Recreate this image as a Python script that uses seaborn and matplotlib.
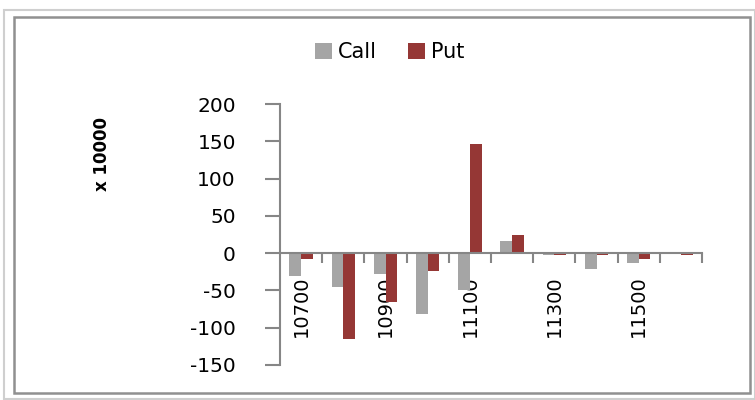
import pandas as pd
import numpy as np
import matplotlib
matplotlib.use('Agg')
import matplotlib.pyplot as plt
import seaborn as sns
from matplotlib.patches import Rectangle

# strikes and values (x 10000)
strikes = ['10700', '10800', '10900', '11000', '11100',
           '11200', '11300', '11400', '11500', '11600']
call = [-30, -46, -28, -81, -50, 16, -2, -21, -13, -1]
put = [-8, -115, -66, -24, 146, 24, -2, -3, -8, -3]
series = ['Call', 'Put']
colors = ['#A5A5A5', '#953735']
yticks = [-150, -100, -50, 0, 50, 100, 150, 200]

df = pd.DataFrame({
    'strike': strikes * 2,
    'value': call + put,
    'type': ['Call'] * len(strikes) + ['Put'] * len(strikes),
})

sns.set_style('white')
plt.rcParams['font.family'] = ['DejaVu Sans']
plt.rcParams['axes.unicode_minus'] = False
plt.rcParams['text.color'] = 'black'
plt.rcParams['xtick.labelcolor'] = 'black'
plt.rcParams['ytick.labelcolor'] = 'black'

fig = plt.figure(figsize=(7.55, 4.0), dpi=100)
ax = fig.add_axes([280 / 755, 35 / 400, 422 / 755, 261 / 400])

sns.barplot(data=df, x='strike', y='value', hue='type', order=strikes,
            hue_order=series, palette=colors, width=0.55, linewidth=0,
            saturation=1, ax=ax)

handles, labels = ax.get_legend_handles_labels()
ax.get_legend().remove()
fig.legend(handles, labels, loc='center', bbox_to_anchor=(390 / 755, 1 - 52 / 400),
           ncol=2, frameon=False, fontsize=15, handlelength=0.8, handleheight=0.8,
           handletextpad=0.3, columnspacing=1.5, labelcolor='black')

# axes look
ax.set_xlim(-0.5, 9.5)
ax.set_ylim(-150, 200)
ax.set_yticks(yticks)
ax.set_xlabel('')
ax.set_ylabel('')
for s in ['top', 'right']:
    ax.spines[s].set_visible(False)
ax.spines['bottom'].set_position(('data', 0))
for s in ['left', 'bottom']:
    ax.spines[s].set_color('#868686')
    ax.spines[s].set_linewidth(1.5)

ax.set_xticks(range(0, 10, 2))
ax.set_xticklabels(strikes[::2], rotation=90, fontsize=14)
ax.set_xticks(np.arange(0.5, 10, 1), minor=True)
ax.tick_params(axis='x', which='major', bottom=True, length=0, pad=16,
               labelcolor='black')
ax.tick_params(axis='x', which='minor', bottom=True, length=7.5, width=1.5,
               color='#868686', direction='out')
ax.tick_params(axis='y', left=True, length=10.8, width=1.5, color='#868686',
               direction='out', pad=21, labelsize=14.5, labelcolor='black')

fig.text(102 / 755, 1 - 154 / 400, 'x 10000', rotation=90, ha='center', va='center',
         fontsize=12, fontweight='bold', color='black')

# chart frame
fig.add_artist(Rectangle((3.5 / 755, 1.5 / 400), 751 / 755, 389 / 400,
                         transform=fig.transFigure, fill=False,
                         edgecolor='#cfcfcf', linewidth=1.5))
fig.add_artist(Rectangle((14 / 755, 7 / 400), 736 / 755, 376 / 400,
                         transform=fig.transFigure, fill=False,
                         edgecolor='#909090', linewidth=1.8))

fig.savefig('out.png', dpi=100)
